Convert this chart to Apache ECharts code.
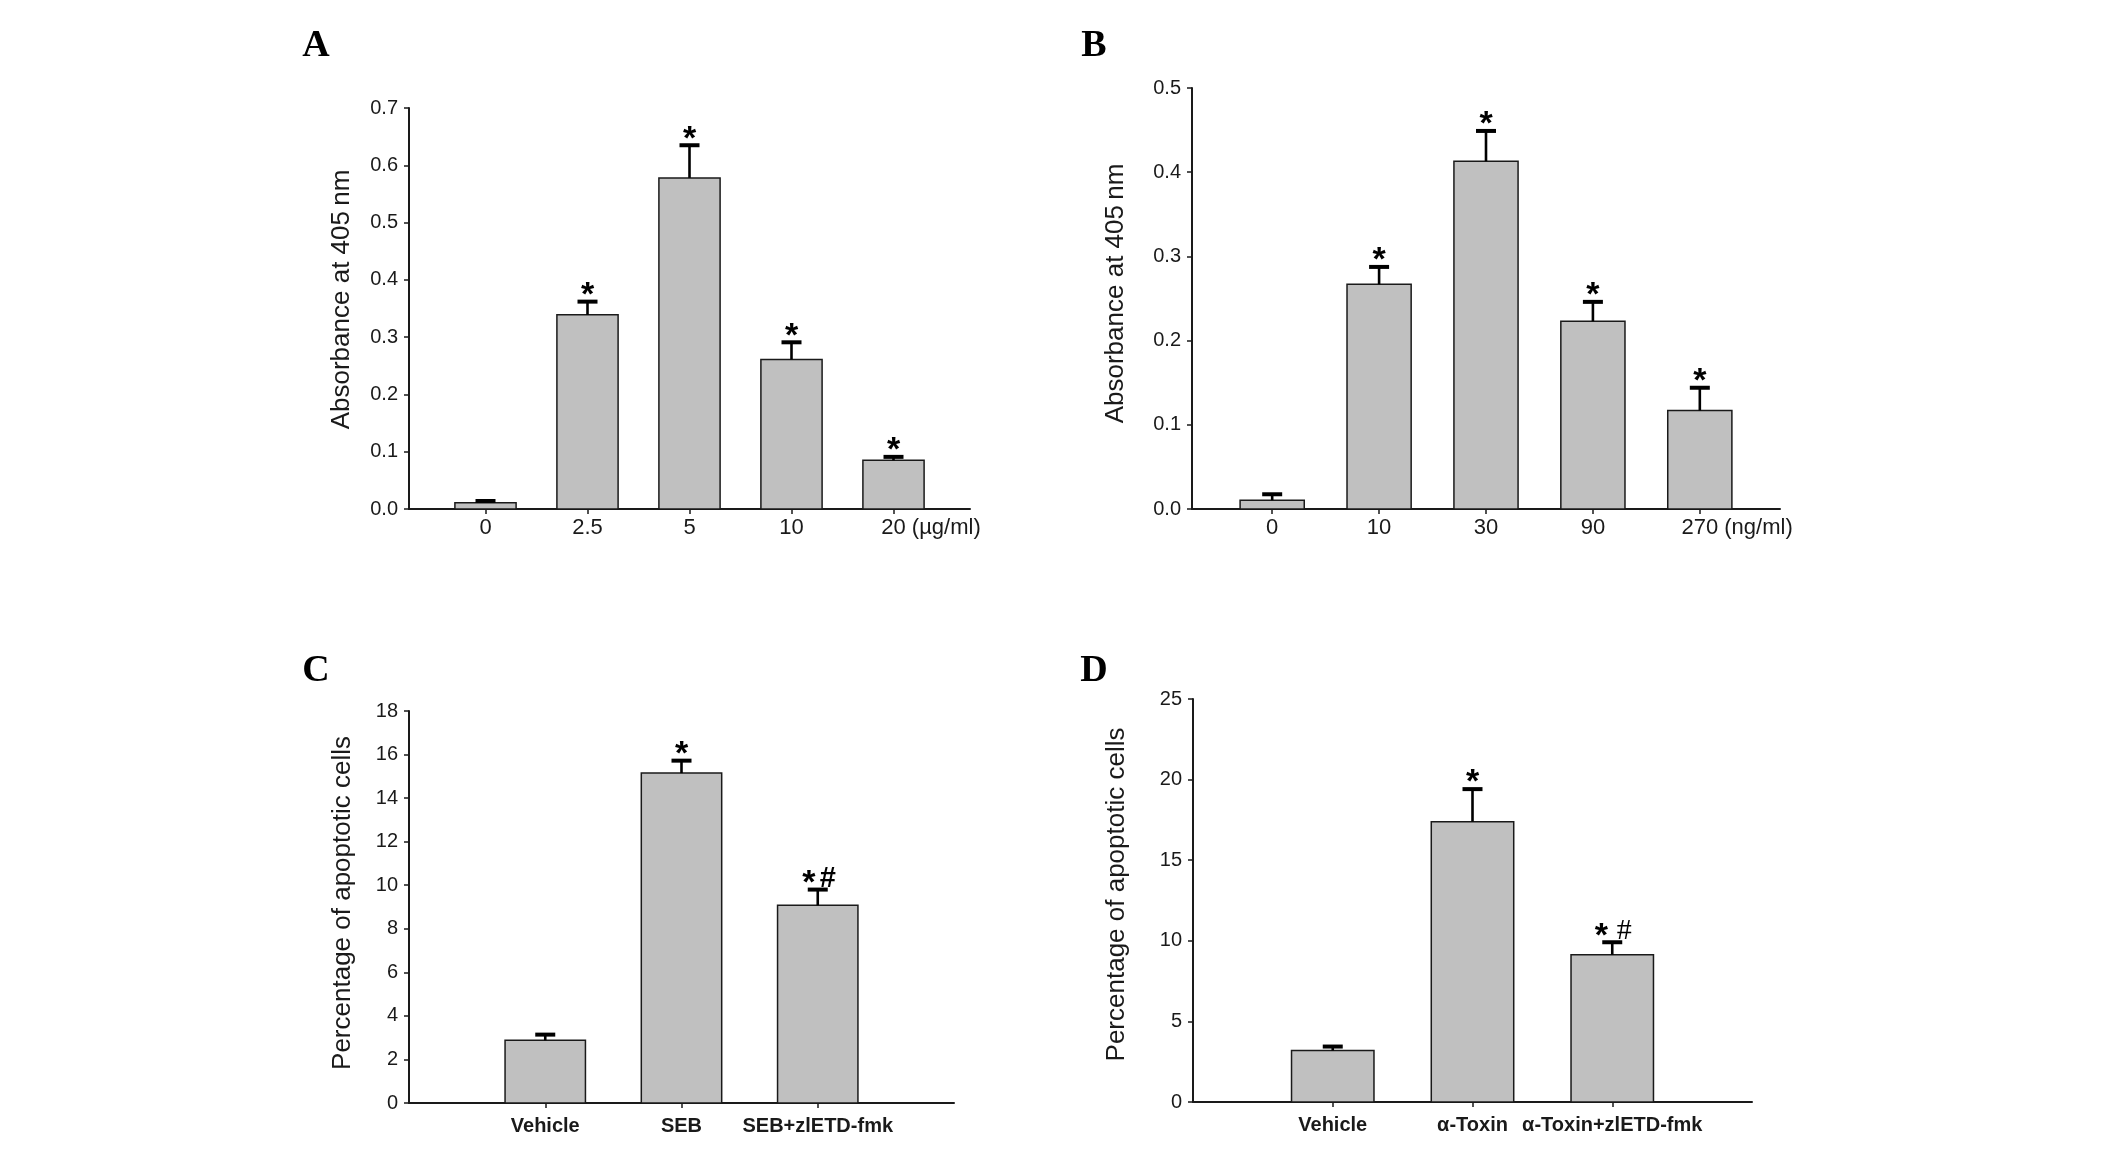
<!DOCTYPE html>
<html>
<head>
<meta charset="utf-8">
<script src="https://cdn.jsdelivr.net/npm/echarts@6/dist/echarts.min.js"></script>
<style>
html,body{margin:0;padding:0;background:#fff;}
#chart{width:2126px;height:1157px;}
</style>
</head>
<body>
<div id="chart"></div>
<script>
// ---------- data ----------
const catsA = ['0', '2.5', '5', '10', '20'];
const unitA = '(µg/ml)';
const valsA = [0.011, 0.339, 0.578, 0.261, 0.085];
const errA  = [0.003, 0.023, 0.057, 0.030, 0.006];
const marksA = ['', '*', '*', '*', '*'];
const ticksA = [0, 0.1, 0.2, 0.3, 0.4, 0.5, 0.6, 0.7];

const catsB = ['0', '10', '30', '90', '270'];
const unitB = '(ng/ml)';
const valsB = [0.0105, 0.267, 0.413, 0.223, 0.117];
const errB  = [0.007, 0.0205, 0.036, 0.023, 0.027];
const marksB = ['', '*', '*', '*', '*'];
const ticksB = [0, 0.1, 0.2, 0.3, 0.4, 0.5];

const catsC = ['Vehicle', 'SEB', 'SEB+zlETD-fmk'];
const valsC = [2.88, 15.15, 9.08];
const errC  = [0.26, 0.57, 0.72];
const marksC = ['', '*', '*#'];
const ticksC = [0, 2, 4, 6, 8, 10, 12, 14, 16, 18];

const catsD = ['Vehicle', 'α-Toxin', 'α-Toxin+zlETD-fmk'];
const valsD = [3.19, 17.39, 9.14];
const errD  = [0.25, 2.02, 0.77];
const marksD = ['', '*', '* #'];
const ticksD = [0, 5, 10, 15, 20, 25];

const titleAB = 'Absorbance at 405\u2009nm';
const titleCD = 'Percentage of apoptotic cells';
const panelLetters = ['A', 'B', 'C', 'D'];

// ---------- styling ----------
const SANS = '"Liberation Sans", Arial, Helvetica, sans-serif';
const SERIF = '"Liberation Serif", "Times New Roman", serif';
const INK = '#1a1a1a';
const BAR = '#c0c0c0';

const measCtx = document.createElement('canvas').getContext('2d');
function textW(t, font) { measCtx.font = font; return measCtx.measureText(t).width; }

const panels = [
  { cats: catsA, vals: valsA, errs: errA, marks: marksA, ticks: ticksA, unit: unitA, title: titleAB, dec: 1,
    grid: { left: 409, top: 108, width: 561, height: 401 }, xMin: -0.75, xMax: 4.75, barFrac: 0.6,
    labFont: 22, labBold: false, labMargin: 8, nameGap: 54, namePad: 18 },
  { cats: catsB, vals: valsB, errs: errB, marks: marksB, ticks: ticksB, unit: unitB, title: titleAB, dec: 1,
    grid: { left: 1192, top: 88, width: 588, height: 421 }, xMin: -0.75, xMax: 4.75, barFrac: 0.6,
    labFont: 22, labBold: false, labMargin: 8, nameGap: 63, namePad: 10 },
  { cats: catsC, vals: valsC, errs: errC, marks: marksC, ticks: ticksC, unit: '', title: titleCD, dec: 0,
    grid: { left: 409, top: 711, width: 545, height: 392 }, xMin: -1, xMax: 3, barFrac: 0.59,
    labFont: 20, labBold: true, labMargin: 13, nameGap: 53, namePad: 8 },
  { cats: catsD, vals: valsD, errs: errD, marks: marksD, ticks: ticksD, unit: '', title: titleCD, dec: 0,
    grid: { left: 1193, top: 699, width: 559, height: 403 }, xMin: -1, xMax: 3, barFrac: 0.59,
    labFont: 20, labBold: true, labMargin: 13, nameGap: 63, namePad: 12 }
];

const grids = [], xAxes = [], yAxes = [], series = [];

panels.forEach((p, k) => {
  grids.push(Object.assign({ containLabel: false }, p.grid));
  const idxs = p.cats.map((_, i) => i);
  xAxes.push({
    gridIndex: k, type: 'value', min: p.xMin, max: p.xMax,
    splitLine: { show: false },
    axisLine: { show: true, onZero: false, lineStyle: { color: INK, width: 2 } },
    axisTick: { show: true, customValues: idxs, length: 5, inside: false, lineStyle: { color: INK, width: 1.5 } },
    axisLabel: {
      customValues: idxs, margin: p.labMargin,
      formatter: v => p.cats[Math.round(v)],
      fontSize: p.labFont, fontWeight: p.labBold ? 'bold' : 'normal', fontFamily: SANS, color: INK
    }
  });
  const yMax = p.ticks[p.ticks.length - 1];
  yAxes.push({
    gridIndex: k, type: 'value', min: 0, max: yMax, interval: p.ticks[1] - p.ticks[0],
    splitLine: { show: false },
    axisLine: { show: true, onZero: false, lineStyle: { color: INK, width: 2 } },
    axisTick: { show: true, length: 5, inside: false, lineStyle: { color: INK, width: 1.5 } },
    axisLabel: { margin: 11, fontSize: 20, fontFamily: SANS, color: INK,
      formatter: v => v.toFixed(p.dec) },
    name: p.title, nameLocation: 'middle', nameGap: p.nameGap,
    nameTextStyle: { fontSize: 26, fontFamily: SANS, color: INK, padding: [0, 0, 0, p.namePad] }
  });

  const labFontStr = (p.labBold ? 'bold ' : '') + p.labFont + 'px ' + SANS;
  series.push({
    type: 'custom', xAxisIndex: k, yAxisIndex: k, clip: false, z: 1,
    data: p.vals.map((v, i) => [i, v, p.errs[i]]),
    renderItem: function (params, api) {
      const i = api.value(0), v = api.value(1), e = api.value(2);
      const base = api.coord([i, 0]);
      const top = api.coord([i, v]);
      const et = api.coord([i, v + e]);
      const w = api.size([p.barFrac, 0])[0];
      const children = [
        { type: 'rect', shape: { x: base[0] - w / 2, y: top[1], width: w, height: base[1] - top[1] },
          style: { fill: BAR, stroke: INK, lineWidth: 1.5 } },
        { type: 'line', shape: { x1: top[0], y1: top[1], x2: et[0], y2: et[1] },
          style: { stroke: '#000', lineWidth: 2.6 } },
        { type: 'line', shape: { x1: et[0] - 10, y1: et[1], x2: et[0] + 10, y2: et[1] },
          style: { stroke: '#000', lineWidth: 4 } }
      ];
      const m = p.marks[params.dataIndex];
      if (m) {
        const hasHash = m.indexOf('#') >= 0;
        const spaced = m.indexOf(' ') >= 0;
        const sx = hasHash ? (spaced ? -11 : -9) : 0;
        children.push({ type: 'text', style: { text: '*', x: et[0] + sx, y: et[1] - 6,
          fontSize: 34, fontWeight: 'bold', fontFamily: SANS, fill: '#000', align: 'center', verticalAlign: 'middle' } });
        if (hasHash) {
          children.push({ type: 'text', style: { text: '#', x: et[0] + (spaced ? 12 : 10), y: et[1] - 11,
            fontSize: spaced ? 30 : 29, fontFamily: spaced ? SERIF : SANS, fontWeight: spaced ? 'normal' : 'bold',
            fill: '#000', align: 'center', verticalAlign: 'middle' } });
        }
      }
      if (p.unit && params.dataIndex === p.cats.length - 1) {
        const half = textW(p.cats[i], labFontStr) / 2;
        const gap = textW(' ', labFontStr);
        children.push({ type: 'text', style: { text: p.unit, x: base[0] + half + gap, y: base[1] + p.labMargin,
          fontSize: p.labFont, fontFamily: SANS, fill: INK, align: 'left', verticalAlign: 'top' } });
      }
      return { type: 'group', children: children };
    }
  });
});

const letterPos = [[316, 46], [1094, 46], [316, 671], [1094, 671]];
const graphic = panelLetters.map((L, i) => ({
  type: 'text', x: letterPos[i][0], y: letterPos[i][1],
  style: { text: L, fontSize: 38, fontWeight: 'bold', fontFamily: SERIF, fill: '#000',
    align: 'center', verticalAlign: 'middle' }
}));

const chart = echarts.init(document.getElementById('chart'), null, { renderer: 'canvas' });
chart.setOption({
  animation: false,
  backgroundColor: '#ffffff',
  grid: grids, xAxis: xAxes, yAxis: yAxes, series: series, graphic: graphic
});
</script>
</body>
</html>
